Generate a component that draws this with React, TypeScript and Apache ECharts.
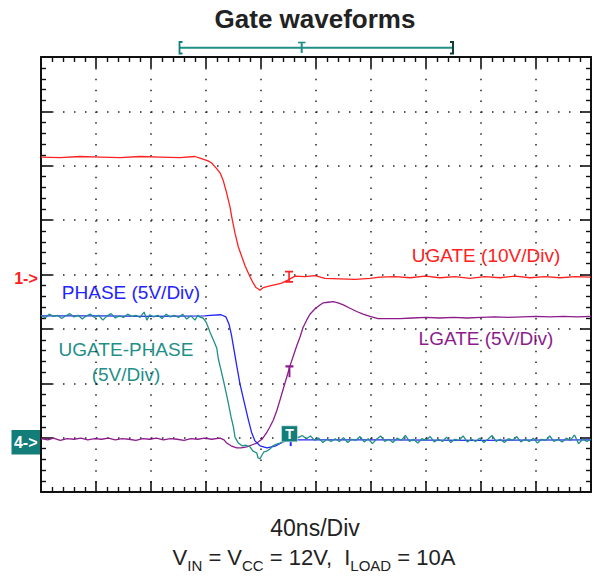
import { useEffect, useRef } from "react";
import * as echarts from "echarts";

// Time axis: 40 ns per division, 10 divisions. Vertical values are screen divisions (0..8).
const timeMaxNs = 400;
const timePerDivNs = 40;
const divCount = 8;

const ugatePoints: [number, number][] = [
  [0, 6.16], [13.8, 6.15], [28.4, 6.17], [42.9, 6.16], [57.5, 6.15], [72, 6.17], [86.5, 6.16],
  [101.1, 6.15], [112, 6.17], [115.6, 6.14], [121.5, 6.09], [124.1, 6.05], [127.3, 5.96],
  [130.2, 5.87], [132.4, 5.74], [134.5, 5.55], [137.5, 5.24], [138.7, 5.06], [141.1, 4.76],
  [143.5, 4.51], [146, 4.33], [148.4, 4.16], [152, 3.96], [154.4, 3.84], [156.4, 3.76],
  [159.3, 3.71], [161.7, 3.76], [166.5, 3.79], [171.4, 3.82], [175, 3.84], [179.9, 3.9],
  [184.7, 3.97], [192, 3.96], [199.3, 3.98], [206.5, 3.93], [217.5, 3.92], [228.4, 3.91],
  [239.3, 3.93], [246.5, 3.95], [257.5, 3.96], [268.4, 3.94], [279.3, 3.97], [290.2, 3.94],
  [301.1, 3.96], [312, 3.93], [322.9, 3.96], [333.8, 3.94], [344.7, 3.97], [355.6, 3.94],
  [366.5, 3.96], [377.5, 3.94], [388.4, 3.96], [400, 3.95],
];

const phasePoints: [number, number][] = [
  [0, 3.24], [42.9, 3.24], [79.3, 3.23], [119.3, 3.24], [122.9, 3.25], [130.9, 3.26],
  [134.5, 3.22], [136.7, 3.09], [138.5, 2.89], [140.4, 2.61], [142.5, 2.3], [144.7, 1.99],
  [147.6, 1.67], [150.5, 1.36], [153.1, 1.1], [155.6, 0.94], [159.3, 0.85], [164.4, 0.81],
  [170.9, 0.85], [176, 0.92], [181.1, 0.95], [186.2, 0.96], [250, 0.96], [320, 0.95], [400, 0.96],
];

const ugatePhasePoints: [number, number][] = [
  [0, 3.25], [3, 3.2], [6, 3.27], [9, 3.23], [12, 3.25], [15, 3.19], [18, 3.24], [21, 3.28],
  [24, 3.22], [27, 3.25], [30, 3.18], [33, 3.24], [36, 3.27], [39, 3.21], [42, 3.25], [45, 3.16],
  [48, 3.24], [51, 3.28], [54, 3.2], [57, 3.24], [60, 3.21], [63, 3.27], [66, 3.23], [69, 3.25],
  [72, 3.21], [75, 3.31], [77, 3.16], [79, 3.26], [82, 3.22], [85, 3.25], [88, 3.19], [91, 3.27],
  [94, 3.22], [97, 3.25], [100, 3.21], [103, 3.27], [106, 3.18], [109, 3.24], [112, 3.16],
  [114, 3.25], [116, 3.21], [117.8, 3.2], [120, 3.13], [121.7, 3.02], [122.9, 2.94],
  [125.3, 2.8], [127.8, 2.65], [128.9, 2.46], [130.9, 2.24], [132.6, 2.06], [134.5, 1.84],
  [136.2, 1.64], [138.2, 1.38], [139.9, 1.2], [141.1, 1.01], [143.5, 0.9], [146.2, 0.85],
  [149.1, 0.86], [152, 0.83], [154.2, 0.75], [156.9, 0.72], [157.8, 0.63], [159.3, 0.61],
  [160.7, 0.68], [162.2, 0.74], [164.1, 0.75], [166.5, 0.79], [168.7, 0.85], [171.4, 0.88],
  [173.8, 0.9], [176.2, 0.93], [178.9, 0.96], [181, 1.02], [184, 1.05], [187, 1.0], [190, 1.04],
  [193, 0.98], [196, 1.03], [199, 0.95], [202, 0.99], [205, 0.91], [208, 0.97], [211, 0.93],
  [214, 0.98], [217, 0.93], [220, 1.0], [223, 0.91], [226, 0.97], [229, 0.95], [232, 1.02],
  [235, 0.92], [238, 0.98], [241, 0.89], [244, 0.97], [247, 1.03], [250, 0.93], [253, 0.97],
  [256, 0.91], [259, 0.99], [262, 0.95], [265, 1.04], [268, 0.93], [271, 0.97], [274, 0.9],
  [277, 0.98], [280, 0.95], [283, 1.02], [286, 0.92], [289, 0.97], [292, 0.93], [295, 1.01],
  [298, 0.91], [301, 0.97], [304, 0.95], [307, 1.03], [310, 0.92], [313, 0.97], [316, 0.93],
  [319, 0.99], [322, 0.91], [325, 0.97], [328, 1.04], [331, 0.93], [334, 0.97], [337, 0.91],
  [340, 0.98], [343, 0.95], [346, 1.02], [349, 0.92], [352, 0.97], [355, 0.93], [358, 0.99],
  [361, 0.9], [364, 0.97], [367, 0.95], [370, 1.03], [373, 0.93], [376, 0.97], [379, 0.92],
  [382, 0.99], [385, 0.95], [388, 1.05], [391, 0.89], [394, 0.97], [397, 0.93], [400, 0.97],
];

const lgatePoints: [number, number][] = [
  [0, 0.98], [5, 0.96], [9, 0.99], [14, 0.95], [19, 0.98], [24, 0.97], [29, 0.99], [34, 0.96],
  [39, 0.98], [44, 0.97], [49, 0.99], [54, 0.96], [59, 0.98], [64, 0.97], [69, 0.95], [74, 0.98],
  [79, 0.97], [84, 0.99], [89, 0.96], [94, 0.98], [99, 0.97], [104, 0.95], [109, 0.98],
  [114, 0.97], [119, 0.99], [124, 0.97], [130.2, 0.99], [133.1, 0.96], [135.1, 0.9],
  [138.2, 0.85], [142.3, 0.81], [145.5, 0.81], [149.6, 0.83], [152.7, 0.86], [156.9, 0.9],
  [160.7, 0.97], [164.1, 1.09], [166.5, 1.2], [168.9, 1.32], [171.4, 1.49], [173.8, 1.69],
  [176, 1.88], [178.7, 2.11], [181.1, 2.32], [183.5, 2.5], [186, 2.69], [188.4, 2.85],
  [190.5, 3.02], [193.2, 3.16], [195.6, 3.27], [199.3, 3.37], [202.9, 3.44], [205.3, 3.48],
  [208.7, 3.49], [212.6, 3.5], [216, 3.48], [219.9, 3.44], [224.7, 3.38], [229.6, 3.32],
  [234.2, 3.27], [239.3, 3.23], [245.1, 3.19], [251.4, 3.19], [261.1, 3.19], [270, 3.2],
  [280, 3.21], [290, 3.2], [300, 3.21], [310, 3.2], [320, 3.21], [330, 3.22], [340, 3.21],
  [350, 3.22], [360, 3.23], [370, 3.22], [380, 3.23], [390, 3.22], [400, 3.23],
];

// cursor / trigger markers (time ns, divisions)
const ugateCursor: [number, number] = [180.4, 3.96];
const lgateCursor: [number, number] = [180.7, 2.22];
const triggerCursor: [number, number] = [180.7, 1.07];
const phaseCursor: [number, number] = [181.6, 0.9];

const RED = "#ff2020";
const BLUE = "#2323ff";
const TEAL = "#1f8f88";
const TEAL_DARK = "#127d79";
const PURPLE = "#8c1b8c";
const FONT = '"Liberation Sans", Arial, Helvetica, sans-serif';

const centered = { align: "center", verticalAlign: "middle", textAlign: "center", textVerticalAlign: "middle" };

export default function App() {
  const ref = useRef<HTMLDivElement>(null);
  useEffect(() => {
    if (!ref.current) return;
    const chart = echarts.init(ref.current, null, { renderer: "svg" });
    const axisLine = { show: true, onZero: false, lineStyle: { color: "#111", width: 2 } };
    const tick = { show: true, inside: true, length: 11, lineStyle: { color: "#111", width: 1.6 } };
    const minor = { show: true, splitNumber: 5, length: 5, lineStyle: { color: "#111", width: 1.4 } };
    const xAxisCommon = {
      type: "value",
      min: 0,
      max: timeMaxNs,
      interval: timePerDivNs,
      axisLine,
      axisTick: tick,
      minorTick: minor,
      axisLabel: { show: false },
    };
    const yAxisCommon = {
      type: "value",
      min: 0,
      max: divCount,
      interval: 1,
      axisLine,
      axisTick: tick,
      minorTick: minor,
      axisLabel: { show: false },
    };
    const lineSeries = (name: string, data: [number, number][], color: string, extra: any = {}) => ({
      type: "line",
      name,
      data,
      showSymbol: false,
      symbol: "none",
      lineStyle: { color, width: 1.3 },
      itemStyle: { color },
      silent: true,
      ...extra,
    });
    const option: any = {
      animation: false,
      backgroundColor: "#ffffff",
      grid: { left: 41, top: 57, width: 550, height: 435, show: false },
      xAxis: [
        {
          ...xAxisCommon,
          position: "bottom",
          splitLine: { show: true, lineStyle: { color: "#222", width: 1.5, type: [1.5, 9.375] } },
        },
        { ...xAxisCommon, position: "top", splitLine: { show: false } },
      ],
      yAxis: [
        {
          ...yAxisCommon,
          position: "left",
          splitLine: { show: true, lineStyle: { color: "#222", width: 1.5, type: [1.5, 9.5] } },
        },
        { ...yAxisCommon, position: "right", splitLine: { show: false } },
      ],
      series: [
        lineSeries("UGATE", ugatePoints, RED, {
          markPoint: {
            silent: true,
            symbol: "path://M0,0H10V2H6V12H10V14H0V12H4V2H0Z",
            symbolSize: [8, 12],
            itemStyle: { color: RED },
            label: { show: false },
            data: [{ coord: ugateCursor }],
          },
        }),
        lineSeries("LGATE", lgatePoints, PURPLE, {
          markPoint: {
            silent: true,
            symbol: "path://M0,0H10V2.5H6.2V14H3.8V2.5H0Z",
            symbolSize: [8, 12],
            itemStyle: { color: PURPLE },
            label: { show: false },
            data: [{ coord: lgateCursor }],
          },
        }),
        lineSeries("PHASE", phasePoints, BLUE, {
          markPoint: {
            silent: true,
            symbol: "rect",
            symbolSize: [2, 6],
            itemStyle: { color: BLUE },
            label: { show: false },
            data: [{ coord: phaseCursor }],
          },
        }),
        lineSeries("UGATE-PHASE", ugatePhasePoints, TEAL, {
          markPoint: {
            silent: true,
            symbol: "rect",
            symbolSize: [16, 16],
            itemStyle: { color: TEAL_DARK, borderColor: "#dfeeee", borderWidth: 0.6 },
            label: {
              show: true,
              position: "inside",
              formatter: "T",
              color: "#ffffff",
              fontWeight: "bold",
              fontSize: 14,
              fontFamily: FONT,
            },
            data: [{ coord: triggerCursor }],
          },
        }),
      ],
      graphic: [
        {
          type: "text",
          x: 315,
          y: 18.5,
          style: { text: "Gate waveforms", fill: "#222", font: `bold 26px ${FONT}`, ...centered },
        },
        // trigger bar
        { type: "line", shape: { x1: 180, y1: 47.7, x2: 452, y2: 47.7 }, style: { stroke: TEAL, lineWidth: 2 } },
        {
          type: "polyline",
          shape: { points: [[182.5, 42], [179.5, 42], [179.5, 53.5], [182.5, 53.5]] },
          style: { stroke: TEAL_DARK, lineWidth: 1.8, fill: null },
        },
        {
          type: "polyline",
          shape: { points: [[450, 42], [453, 42], [453, 53.5], [450, 53.5]] },
          style: { stroke: "#123c3c", lineWidth: 2, fill: null },
        },
        { type: "line", shape: { x1: 298, y1: 42.5, x2: 305.5, y2: 42.5 }, style: { stroke: TEAL, lineWidth: 1.6 } },
        { type: "line", shape: { x1: 301.7, y1: 42.5, x2: 301.7, y2: 53 }, style: { stroke: TEAL, lineWidth: 2 } },
        // channel markers
        {
          type: "text",
          x: 26,
          y: 278,
          style: { text: "1->", fill: RED, font: `bold 16px ${FONT}`, ...centered },
        },
        { type: "rect", shape: { x: 11.5, y: 430, width: 28.5, height: 24.5 }, style: { fill: TEAL_DARK } },
        {
          type: "text",
          x: 25.7,
          y: 442,
          style: { text: "4->", fill: "#ffffff", font: `bold 16px ${FONT}`, ...centered },
        },
        // trace labels
        { type: "text", x: 486, y: 255.3, style: { text: "UGATE (10V/Div)", fill: RED, font: `19px ${FONT}`, ...centered } },
        { type: "text", x: 486, y: 338, style: { text: "LGATE (5V/Div)", fill: PURPLE, font: `19px ${FONT}`, ...centered } },
        { type: "text", x: 131, y: 292.5, style: { text: "PHASE (5V/Div)", fill: BLUE, font: `19px ${FONT}`, ...centered } },
        { type: "text", x: 126, y: 349.2, style: { text: "UGATE-PHASE", fill: TEAL, font: `19px ${FONT}`, ...centered } },
        { type: "text", x: 126, y: 374.2, style: { text: "(5V/Div)", fill: TEAL, font: `19px ${FONT}`, ...centered } },
        // bottom captions
        { type: "text", x: 315, y: 527.5, style: { text: "40ns/Div", fill: "#222", font: `23px ${FONT}`, ...centered } },
        {
          type: "text",
          x: 314,
          y: 557.5,
          style: {
            text: "{m|V}{s|IN}{m| = V}{s|CC}{m| = 12V,  I}{s|LOAD}{m| = 10A}",
            fill: "#222",
            font: `22px ${FONT}`,
            ...centered,
            rich: {
              m: { fontSize: 22, fontFamily: FONT, lineHeight: 30, verticalAlign: "middle", fill: "#222", color: "#222" },
              s: { fontSize: 15, fontFamily: FONT, lineHeight: 15, verticalAlign: "bottom", fill: "#222", color: "#222" },
            },
          },
        },
      ],
    };
    chart.setOption(option);
    return () => chart.dispose();
  }, []);
  return (
    <div
      ref={ref}
      style={{ position: "fixed", left: 0, top: 0, width: 598, height: 578, background: "#fff" }}
    />
  );
}
